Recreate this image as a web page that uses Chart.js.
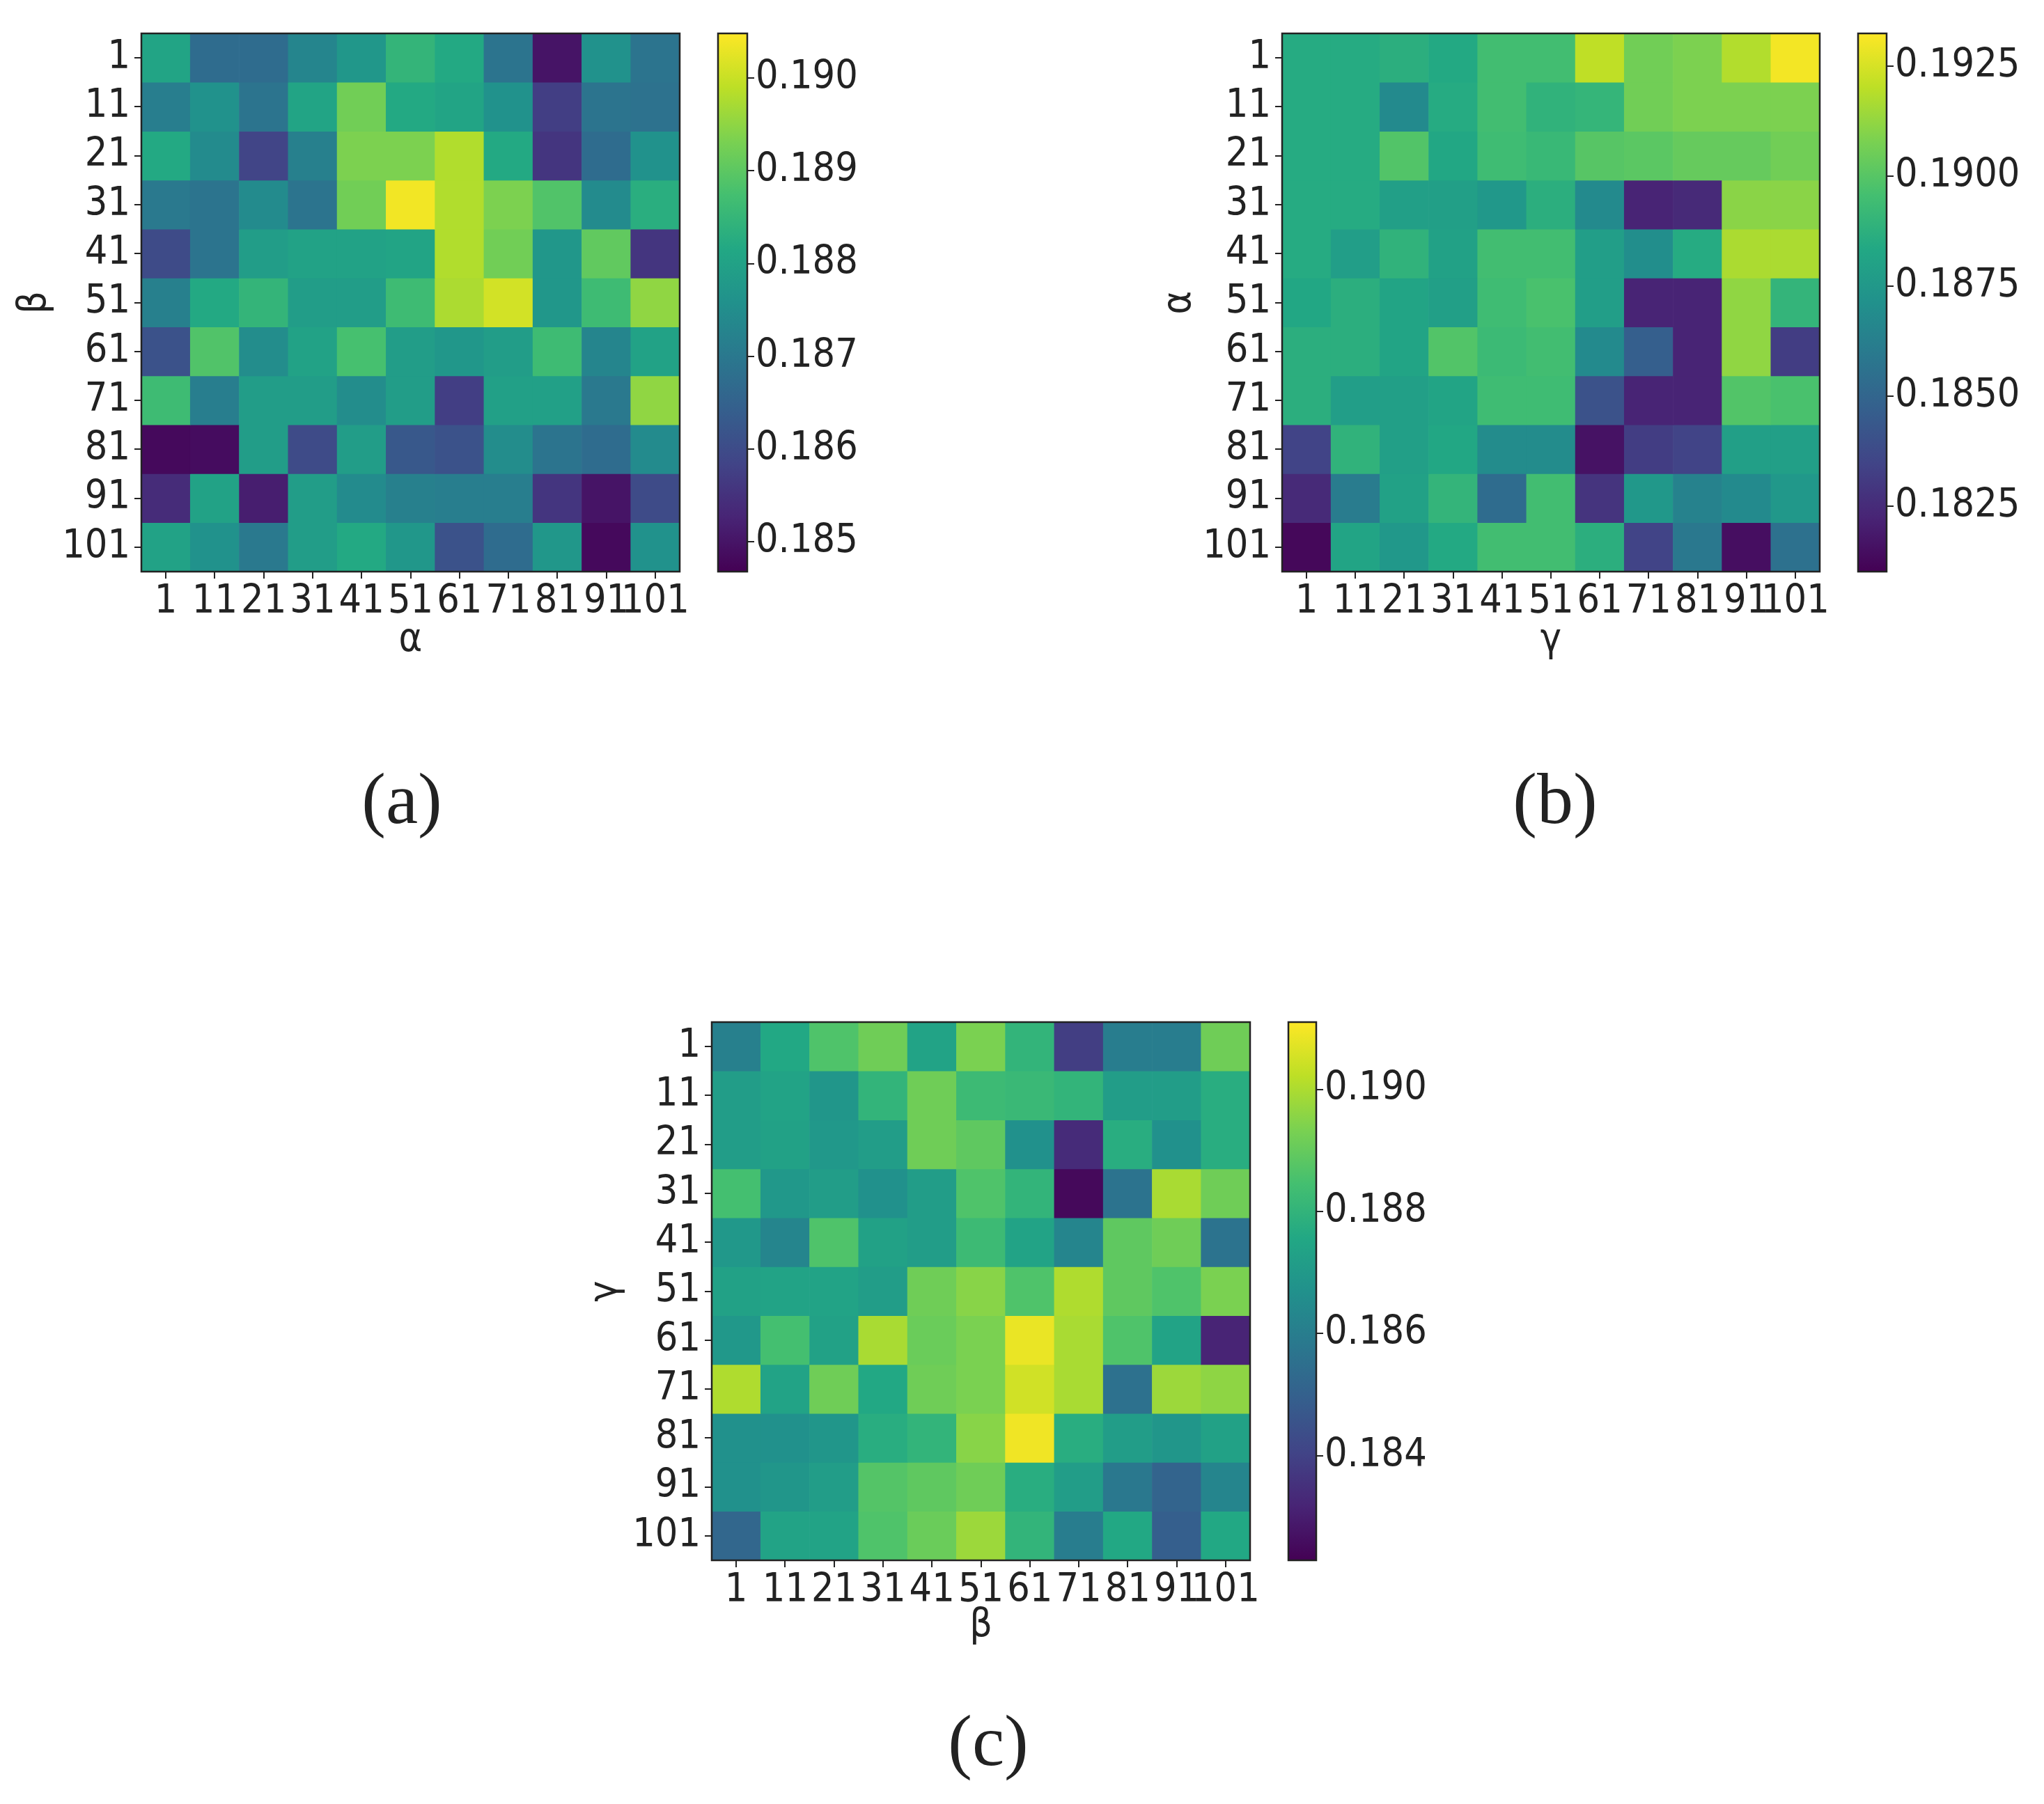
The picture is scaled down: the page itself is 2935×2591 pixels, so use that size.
<!DOCTYPE html>
<html>
<head>
<meta charset="utf-8">
<script src="https://cdn.jsdelivr.net/npm/chart.js@4.4.1/dist/chart.umd.min.js"></script>
<style>
  html, body { margin: 0; padding: 0; background: #fff; }
  body { width: 2935px; height: 2591px; position: relative; overflow: hidden; }
  .box { position: absolute; }
  .cap { position: absolute; font-family: 'Liberation Serif', serif; font-size: 104px; color: #222;
         transform: translate(-50%, -50%); white-space: nowrap; }
</style>
</head>
<body>
<div class="box" style="left:0px;top:0px"><canvas id="heatA" width="1000" height="960"></canvas></div>
<div class="box" style="left:1000px;top:0px"><canvas id="barA" width="320" height="960"></canvas></div>
<div class="box" style="left:1600px;top:0px"><canvas id="heatB" width="1040" height="960"></canvas></div>
<div class="box" style="left:2640px;top:0px"><canvas id="barB" width="295" height="960"></canvas></div>
<div class="box" style="left:800px;top:1400px"><canvas id="heatC" width="1020" height="1000"></canvas></div>
<div class="box" style="left:1820px;top:1400px"><canvas id="barC" width="300" height="1000"></canvas></div>

<div class="cap" style="left:577px;top:1146px">(a)</div>
<div class="cap" style="left:2233px;top:1146px">(b)</div>
<div class="cap" style="left:1419px;top:2499px">(c)</div>

<script>
// tick labels shared by every axis (parameter grid 1..101)
const paramLabels = ['1', '11', '21', '31', '41', '51', '61', '71', '81', '91', '101'];

// (a) rows: beta, columns: alpha
const valuesA = [
  [0.18806, 0.18673, 0.18673, 0.18731, 0.18772, 0.18847, 0.18818, 0.18690, 0.18499, 0.18760, 0.18690],
  [0.18714, 0.18760, 0.18690, 0.18806, 0.18922, 0.18818, 0.18806, 0.18760, 0.18574, 0.18690, 0.18685],
  [0.18818, 0.18743, 0.18586, 0.18719, 0.18934, 0.18934, 0.18980, 0.18818, 0.18557, 0.18673, 0.18760],
  [0.18702, 0.18690, 0.18743, 0.18690, 0.18922, 0.19038, 0.18980, 0.18934, 0.18888, 0.18743, 0.18830],
  [0.18598, 0.18690, 0.18789, 0.18801, 0.18801, 0.18806, 0.18980, 0.18922, 0.18772, 0.18905, 0.18557],
  [0.18719, 0.18818, 0.18847, 0.18789, 0.18789, 0.18864, 0.18975, 0.19009, 0.18772, 0.18864, 0.18951],
  [0.18615, 0.18888, 0.18748, 0.18801, 0.18876, 0.18789, 0.18772, 0.18789, 0.18864, 0.18731, 0.18801],
  [0.18864, 0.18714, 0.18789, 0.18789, 0.18748, 0.18789, 0.18574, 0.18795, 0.18795, 0.18702, 0.18951],
  [0.18482, 0.18487, 0.18789, 0.18598, 0.18789, 0.18627, 0.18615, 0.18748, 0.18690, 0.18673, 0.18743],
  [0.18540, 0.18801, 0.18516, 0.18789, 0.18743, 0.18719, 0.18714, 0.18714, 0.18557, 0.18499, 0.18598],
  [0.18801, 0.18760, 0.18702, 0.18789, 0.18818, 0.18772, 0.18615, 0.18673, 0.18772, 0.18482, 0.18760]
];
const rangeA = [0.18468, 0.19048];
const cbTicksA = [0.185, 0.186, 0.187, 0.188, 0.189, 0.190];

// (b) rows: alpha, columns: gamma
const valuesB = [
  [0.18850, 0.18850, 0.18870, 0.18840, 0.18950, 0.18950, 0.19207, 0.19059, 0.19084, 0.19182, 0.19305],
  [0.18850, 0.18850, 0.18680, 0.18850, 0.18950, 0.18890, 0.18905, 0.19059, 0.19084, 0.19084, 0.19084],
  [0.18850, 0.18850, 0.18990, 0.18830, 0.18940, 0.18920, 0.19000, 0.19010, 0.19035, 0.19035, 0.19059],
  [0.18850, 0.18850, 0.18790, 0.18790, 0.18750, 0.18870, 0.18680, 0.18223, 0.18248, 0.19109, 0.19109],
  [0.18850, 0.18780, 0.18890, 0.18800, 0.18950, 0.18950, 0.18780, 0.18700, 0.18850, 0.19170, 0.19170],
  [0.18830, 0.18870, 0.18815, 0.18790, 0.18940, 0.18970, 0.18780, 0.18223, 0.18223, 0.19121, 0.18900],
  [0.18870, 0.18870, 0.18815, 0.18990, 0.18930, 0.18950, 0.18680, 0.18469, 0.18223, 0.19121, 0.18321],
  [0.18870, 0.18780, 0.18790, 0.18815, 0.18940, 0.18940, 0.18408, 0.18223, 0.18223, 0.18990, 0.18970],
  [0.18346, 0.18890, 0.18790, 0.18830, 0.18690, 0.18690, 0.18162, 0.18321, 0.18346, 0.18790, 0.18790],
  [0.18248, 0.18610, 0.18800, 0.18900, 0.18531, 0.18950, 0.18285, 0.18750, 0.18640, 0.18680, 0.18750],
  [0.18125, 0.18815, 0.18750, 0.18840, 0.18950, 0.18950, 0.18870, 0.18346, 0.18592, 0.18149, 0.18555]
];
const rangeB = [0.18102, 0.19325];
const cbTicksB = [0.1825, 0.1850, 0.1875, 0.1900, 0.1925];

// (c) rows: gamma, columns: beta
const valuesC = [
  [0.18608, 0.18758, 0.18864, 0.18916, 0.18740, 0.18934, 0.18802, 0.18388, 0.18600, 0.18600, 0.18916],
  [0.18714, 0.18740, 0.18688, 0.18802, 0.18916, 0.18828, 0.18820, 0.18802, 0.18714, 0.18714, 0.18776],
  [0.18714, 0.18732, 0.18696, 0.18714, 0.18916, 0.18890, 0.18670, 0.18336, 0.18776, 0.18670, 0.18776],
  [0.18846, 0.18696, 0.18714, 0.18670, 0.18714, 0.18864, 0.18802, 0.18248, 0.18564, 0.18996, 0.18916],
  [0.18696, 0.18626, 0.18864, 0.18732, 0.18714, 0.18828, 0.18740, 0.18626, 0.18890, 0.18916, 0.18564],
  [0.18732, 0.18740, 0.18740, 0.18714, 0.18916, 0.18952, 0.18864, 0.19004, 0.18890, 0.18864, 0.18934],
  [0.18696, 0.18846, 0.18732, 0.18996, 0.18908, 0.18934, 0.19084, 0.18996, 0.18864, 0.18740, 0.18318],
  [0.19004, 0.18740, 0.18916, 0.18758, 0.18916, 0.18934, 0.19048, 0.18996, 0.18556, 0.18978, 0.18960],
  [0.18670, 0.18670, 0.18688, 0.18776, 0.18802, 0.18952, 0.19092, 0.18776, 0.18714, 0.18688, 0.18732],
  [0.18670, 0.18688, 0.18714, 0.18872, 0.18890, 0.18916, 0.18776, 0.18714, 0.18582, 0.18512, 0.18626],
  [0.18520, 0.18740, 0.18740, 0.18864, 0.18908, 0.18978, 0.18802, 0.18600, 0.18758, 0.18494, 0.18758]
];
const rangeC = [0.18229, 0.19110];
const cbTicksC = [0.184, 0.186, 0.188, 0.190];

const INK = '#222';
const tickFont = { family: "'DejaVu Sans Condensed', 'DejaVu Sans', sans-serif", size: 57 };

// viridis colormap stops
const VIRIDIS = ['#440154', '#482475', '#414487', '#355f8d', '#2a788e', '#21918c',
                 '#22a884', '#44bf70', '#7ad151', '#bddf26', '#fde725'];

function hexRgb(h) {
  return [1, 3, 5].map(i => parseInt(h.slice(i, i + 2), 16));
}

function viridis(t) {
  t = Math.min(1, Math.max(0, t));
  const p = t * (VIRIDIS.length - 1);
  const i = Math.min(Math.floor(p), VIRIDIS.length - 2);
  const f = p - i;
  const a = hexRgb(VIRIDIS[i]), b = hexRgb(VIRIDIS[i + 1]);
  const c = a.map((v, k) => Math.round(v + (b[k] - v) * f));
  return `rgb(${c[0]}, ${c[1]}, ${c[2]})`;
}

function viridisGradient(chart) {
  const a = chart.chartArea;
  if (!a) return null;
  const g = chart.ctx.createLinearGradient(0, a.bottom, 0, a.top);
  VIRIDIS.forEach((c, i) => g.addColorStop(i / (VIRIDIS.length - 1), c));
  return g;
}

// black spines round the plot area
const framePlugin = {
  id: 'frame',
  afterDatasetsDraw(chart) {
    const { ctx, chartArea: a } = chart;
    ctx.save();
    ctx.strokeStyle = INK;
    ctx.lineWidth = 2.5;
    ctx.strokeRect(a.left, a.top, a.right - a.left, a.bottom - a.top);
    ctx.restore();
  }
};

function heatmap(id, values, range, xTitle, yTitle, g) {
  const [lo, hi] = range;
  const datasets = values.map(row => ({
    data: row.map(() => 1),
    backgroundColor: row.map(v => viridis((v - lo) / (hi - lo))),
    borderWidth: 0,
    barPercentage: 1,
    categoryPercentage: 1,
    stack: 'cells'
  }));

  new Chart(document.getElementById(id), {
    type: 'bar',
    data: { labels: paramLabels, datasets },
    options: {
      responsive: false,
      animation: false,
      layout: { padding: { left: 0, top: g.top, right: g.right, bottom: 0 } },
      plugins: { legend: { display: false }, tooltip: { enabled: false } },
      scales: {
        x: {
          stacked: true,
          grid: { offset: false, drawOnChartArea: false, tickLength: 10, lineWidth: 2, color: INK },
          border: { display: false },
          ticks: { autoSkip: false, maxRotation: 0, minRotation: 0, padding: 0, color: INK, font: tickFont },
          title: { display: true, text: xTitle, color: INK, font: tickFont, padding: { top: 0, bottom: g.xTitlePad } },
          afterFit: s => { s.height = g.xAxis; }
        },
        y: {
          type: 'linear',
          stacked: true,
          reverse: true,
          min: 0,
          max: paramLabels.length,
          afterBuildTicks: s => { s.ticks = paramLabels.map((_, i) => ({ value: i + 0.5 })); },
          grid: { drawOnChartArea: false, tickLength: 10, lineWidth: 2, color: INK },
          border: { display: false },
          ticks: { padding: 6, color: INK, font: tickFont, callback: v => paramLabels[Math.floor(v)] },
          title: { display: true, text: yTitle, color: INK, font: tickFont, padding: { top: g.yTitlePad, bottom: 0 } },
          afterFit: s => { s.width = g.yAxis; }
        }
      }
    },
    plugins: [framePlugin]
  });
}

function colorbar(id, range, ticks, decimals, g) {
  new Chart(document.getElementById(id), {
    type: 'bar',
    data: {
      labels: [''],
      datasets: [{
        data: [range],
        backgroundColor: ctx => viridisGradient(ctx.chart),
        borderWidth: 0,
        barPercentage: 1,
        categoryPercentage: 1
      }]
    },
    options: {
      responsive: false,
      animation: false,
      layout: { padding: { left: g.left, top: g.top, bottom: g.bottom, right: 0 } },
      plugins: { legend: { display: false }, tooltip: { enabled: false } },
      scales: {
        x: { display: false },
        y: {
          position: 'right',
          min: range[0],
          max: range[1],
          afterBuildTicks: s => { s.ticks = ticks.map(v => ({ value: v })); },
          grid: { drawOnChartArea: false, tickLength: 10, lineWidth: 2, color: INK },
          border: { display: false },
          ticks: { padding: 2, color: INK, font: tickFont, callback: v => v.toFixed(decimals) },
          afterFit: s => { s.width = g.axis; }
        }
      }
    },
    plugins: [framePlugin]
  });
}

heatmap('heatA', valuesA, rangeA, 'α', 'β', { top: 48, right: 24, yAxis: 203, xAxis: 139, yTitlePad: 16, xTitlePad: 6 });
colorbar('barA', rangeA, cbTicksA, 3, { left: 31, top: 48, bottom: 139, axis: 247 });

heatmap('heatB', valuesB, rangeB, 'γ', 'α', { top: 48, right: 27, yAxis: 241, xAxis: 139, yTitlePad: 60, xTitlePad: 6 });
colorbar('barB', rangeB, cbTicksB, 4, { left: 28, top: 48, bottom: 139, axis: 226 });

heatmap('heatC', valuesC, rangeC, 'β', 'γ', { top: 68, right: 25, yAxis: 222, xAxis: 159, yTitlePad: 36, xTitlePad: 31 });
colorbar('barC', rangeC, cbTicksC, 3, { left: 30, top: 68, bottom: 159, axis: 230 });
</script>
</body>
</html>
